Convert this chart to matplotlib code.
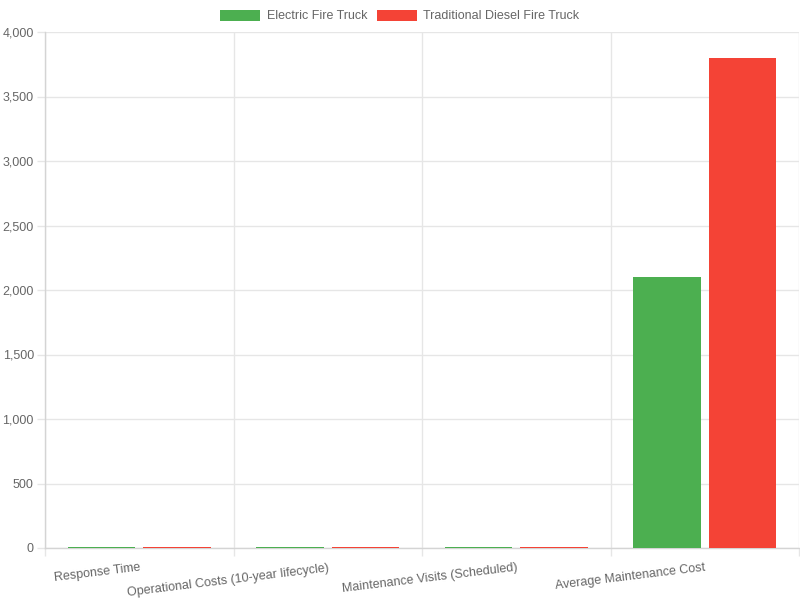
import matplotlib
matplotlib.use("Agg")
import matplotlib.pyplot as plt
import numpy as np
from matplotlib.patches import Patch

categories = ["Response Time", "Operational Costs (10-year lifecycle)",
              "Maintenance Visits (Scheduled)", "Average Maintenance Cost"]
electric = [8, 9, 6, 2100]
diesel = [10, 10, 9, 3800]
series_names = ["Electric Fire Truck", "Traditional Diesel Fire Truck"]
colors = ["#4CAF50", "#F44336"]
yticks = [0, 500, 1000, 1500, 2000, 2500, 3000, 3500, 4000]

GRID = '#e6e6e6'
AXIS = '#d4d4d4'

plt.rcParams['font.family'] = ['Liberation Sans', 'DejaVu Sans']
fig = plt.figure(figsize=(8, 6), dpi=100)
ax = fig.add_axes([45/800, 1-548/600, 754/800, 516/600])

x = np.arange(len(categories))
w = 0.36
ax.bar(x - 0.2, electric, w, color=colors[0], zorder=3, linewidth=0, alpha=1)
ax.bar(x + 0.2, diesel, w, color=colors[1], zorder=3, linewidth=0, alpha=1)

ax.set_xlim(-0.5, len(categories) - 0.5)
ax.set_ylim(0, 4000)
ax.set_yticks(yticks)
ax.set_yticklabels([f"{v:,}" for v in yticks])

bounds = np.arange(len(categories) + 1) - 0.5
ax.set_xticks(bounds, minor=True)
ax.set_xticks(x)
ax.set_xticklabels(categories, rotation=7, ha='right', rotation_mode='anchor')
ax.tick_params(axis='x', which='major', length=0, pad=10)
ax.tick_params(axis='x', which='minor', length=6, color=GRID, width=1)
ax.tick_params(axis='y', length=6, color=GRID, width=1, pad=2)
ax.tick_params(labelsize=9, labelcolor='#666666')
ax.yaxis.grid(True, color=GRID, linewidth=1, alpha=1)
ax.xaxis.grid(True, which='minor', color=GRID, linewidth=1, alpha=1)
ax.xaxis.grid(False, which='major')
ax.set_axisbelow(True)
for s in ['top', 'right']:
    ax.spines[s].set_visible(False)
for s in ['left', 'bottom']:
    ax.spines[s].set_color(AXIS)
    ax.spines[s].set_linewidth(1)
    ax.spines[s].set_zorder(2)

handles = [Patch(facecolor=c, edgecolor='none') for c in colors]
fig.legend(handles, series_names, loc='center', bbox_to_anchor=(0.5, 1-16/600),
           ncol=2, frameon=False, fontsize=9, labelcolor='#666666',
           handlelength=3.2, handleheight=1.0, handletextpad=0.5, columnspacing=0.8)

fig.savefig("out.png", dpi=100)
